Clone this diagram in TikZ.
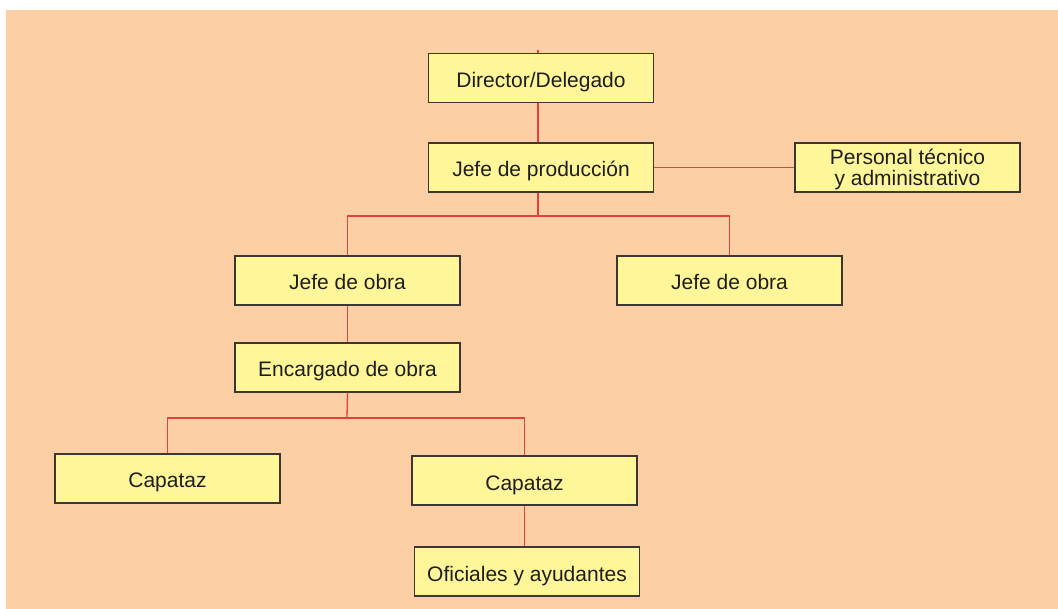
\documentclass[tikz,border=0pt]{standalone}
\usepackage{fontspec}
\setmainfont{Liberation Sans}
\definecolor{bgpeach}{RGB}{252,207,165}
\definecolor{boxyel}{RGB}{255,246,153}
\definecolor{linered}{RGB}{232,64,58}
\definecolor{boxedge}{RGB}{60,55,50}
\definecolor{txt}{RGB}{30,30,30}
\begin{document}
\begin{tikzpicture}[x=1pt,y=-1pt,
  orgbox/.style={draw=boxedge,line width=1.4pt,fill=boxyel,minimum width=225pt,minimum height=49pt,inner sep=0pt,
    font=\fontsize{21}{21}\selectfont,text=txt,align=center,text height=20.5pt,text depth=1.5pt},
  link/.style={draw=linered,line width=1.3pt}]
\useasboundingbox (0,0) rectangle (1058,609);
\fill[white] (0,0) rectangle (1058,609);
\fill[bgpeach] (6,10) rectangle (1058,609);
\node[orgbox] (dir) at (541,78) {Director/Delegado};
\node[orgbox] (prod) at (541,167.5) {Jefe de producción};
\node[orgbox,text height=37pt,text depth=1pt] (pers) at (907.5,167.5) {Personal técnico\\y administrativo};
\node[orgbox] (jo1) at (347.5,280.5) {Jefe de obra};
\node[orgbox] (jo2) at (729.5,280.5) {Jefe de obra};
\node[orgbox] (enc) at (347.5,367.5) {Encargado de obra};
\node[orgbox] (cap1) at (167.5,478.5) {Capataz};
\node[orgbox] (cap2) at (524.5,480.5) {Capataz};
\node[orgbox] (ofi) at (527,571.5) {Oficiales y ayudantes};
\coordinate (tick) at (538,50);
\coordinate (b1) at (538,216);
\coordinate (b2) at (347,418);
\draw[link] (tick) -- (tick |- dir.north);
\draw[link] (dir.south -| tick) -- (prod.north -| tick);
\draw[link] (prod.east) -- (pers.west);
\draw[link] (prod.south -| b1) -- (b1);
\draw[link] (jo1.north) |- (b1) -| (jo2.north);
\draw[link] (jo1.south) -- (enc.north);
\draw[link] (enc.south) -- (b2);
\draw[link] (cap1.north) |- (b2) -| (cap2.north);
\draw[link] (cap2.south) -- (ofi.north -| cap2.south);
\end{tikzpicture}
\end{document}
